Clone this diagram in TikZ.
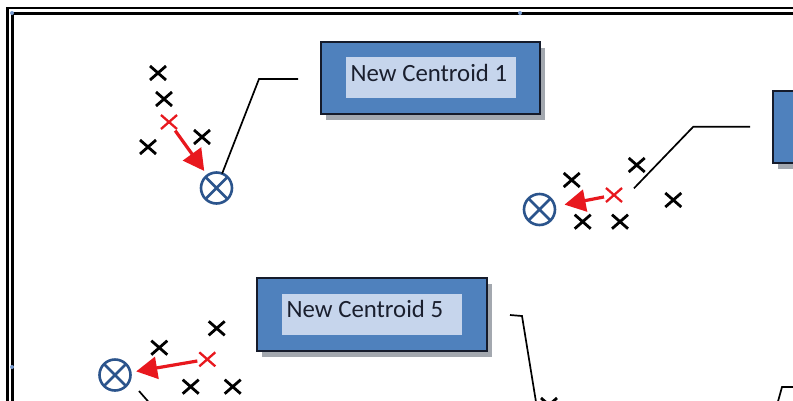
\documentclass[tikz,border=0pt]{standalone}
\usepackage{fontspec}
\setmainfont{Carlito}
\usetikzlibrary{shapes.misc,arrows.meta,shadows}
\definecolor{boxblue}{HTML}{4F81BD}
\definecolor{boxborder}{HTML}{151B2B}
\definecolor{innerblue}{HTML}{C6D5EC}
\definecolor{shadowgray}{HTML}{A3A8AF}
\definecolor{circleblue}{HTML}{2B548C}
\definecolor{textcol}{HTML}{1A1F2E}
\definecolor{redx}{HTML}{E8181E}
\definecolor{handleblue}{HTML}{7A9CD0}
\tikzset{
  xmark/.style={cross out, draw=black, line width=2.8pt, minimum width=16pt, minimum height=14pt, inner sep=0pt, outer sep=0pt},
  redmark/.style={cross out, draw=redx, line width=2.3pt, minimum width=16pt, minimum height=14pt, inner sep=0pt, outer sep=0pt},
  cnode/.style={circle, draw=circleblue, line width=2.6pt, minimum size=31pt, inner sep=0pt, outer sep=0pt},
  cline/.style={draw=circleblue, line width=2.6pt},
  redarrow/.style={draw=redx, line width=3.2pt, -{Triangle[length=21pt,width=22pt]}, shorten <=2pt},
  callout/.style={draw=black, line width=1.7pt},
  outerbox/.style={rectangle, fill=boxblue, draw=boxborder, line width=2.2pt, inner sep=0pt,
    drop shadow={shadow xshift=5pt, shadow yshift=-6pt, fill=shadowgray, opacity=1}},
  innerbox/.style={rectangle, fill=innerblue, draw=none, inner sep=0pt},
  boxtext/.style={text=textcol, inner sep=0pt, anchor=base west, font=\fontsize{24.8}{29}\selectfont},
  handle/.style={circle, fill=handleblue, inner sep=0pt, minimum size=4pt},
  frame/.style={draw=black, line width=2.6pt}
}
\begin{document}
\begin{tikzpicture}[x=1pt,y=-1pt]
\useasboundingbox (0,0) rectangle (793,400);
\clip (0,0) rectangle (793,400);
\fill[white] (0,0) rectangle (793,400);
% frame
\draw[frame] (7.6,7.9) rectangle (830,430);
\draw[frame] (12.3,13.3) rectangle (830,430);
\node[handle] (h1) at (12,13) {};
\node[handle] (h2) at (520,13) {};
\node[handle] (h3) at (12,367) {};

% boxes
\node[outerbox, minimum width=219pt, minimum height=72pt] (B1) at (430.5,78) {};
\node[innerbox, minimum width=170pt, minimum height=41pt] (I1) at (431,77.5) {};
\node[boxtext] (T1) at (350.5,81.7) {New Centroid 1};

\node[outerbox, minimum width=154pt, minimum height=72pt] (B2) at (850,127) {};

\node[outerbox, minimum width=230pt, minimum height=73pt] (B5) at (372,314.5) {};
\node[innerbox, minimum width=180pt, minimum height=41pt] (I5) at (372,314.5) {};
\node[boxtext] (T5) at (286.5,317) {New Centroid 5};

% cluster 1
\node[xmark] (a1) at (158,73) {};
\node[xmark] (a2) at (164,99) {};
\node[redmark] (r1) at (169,122) {};
\node[xmark] (a3) at (202,137) {};
\node[xmark] (a4) at (148,147) {};
\node[cnode] (c1) at (216.5,188) {};
\draw[cline] (c1.45) -- (c1.225) (c1.135) -- (c1.315);
\draw[redarrow, shorten >=5.5pt] (r1) -- (c1);
\coordinate (k1a) at (259,79);
\coordinate (k1b) at (298,79);
\draw[callout] (c1) -- (k1a) -- (k1b);

% cluster 2
\node[xmark] (b1) at (636.7,165) {};
\node[xmark] (b2) at (571.7,180) {};
\node[redmark] (r2) at (614,195) {};
\node[xmark] (b3) at (673.3,200) {};
\node[xmark] (b4) at (582.7,221.7) {};
\node[xmark] (b5) at (620,221.7) {};
\node[cnode] (c2) at (539.5,209.5) {};
\draw[cline] (c2.45) -- (c2.225) (c2.135) -- (c2.315);
\draw[redarrow, shorten >=10pt] (r2) -- (c2);
\coordinate (k2s) at (634,188.3);
\coordinate (k2a) at (693.3,126.7);
\coordinate (k2b) at (750,126.7);
\draw[callout] (k2s) -- (k2a) -- (k2b);

% cluster 5
\node[xmark] (e1) at (216.7,328.3) {};
\node[xmark] (e2) at (159.3,347.7) {};
\node[redmark] (r5) at (207.3,359.3) {};
\node[xmark] (e3) at (190.7,386.7) {};
\node[xmark] (e4) at (232.7,386.7) {};
\node[cnode] (c5) at (115,375) {};
\draw[cline] (c5.45) -- (c5.225) (c5.135) -- (c5.315);
\draw[redarrow, shorten >=6pt] (r5) -- (c5);
\coordinate (k7a) at (139,391);
\coordinate (k7b) at (153,407);
\draw[callout] (k7a) -- (k7b);

% callout of box 5 and partial items at the bottom
\coordinate (k5a) at (510,315);
\coordinate (k5b) at (522,316);
\coordinate (k5c) at (536.5,405);
\draw[callout] (k5a) -- (k5b) -- (k5c);
\node[xmark] (f1) at (549,405) {};
\coordinate (k6a) at (777,405);
\coordinate (k6b) at (782,387);
\coordinate (k6c) at (800,387);
\draw[callout] (k6a) -- (k6b) -- (k6c);
\end{tikzpicture}
\end{document}
